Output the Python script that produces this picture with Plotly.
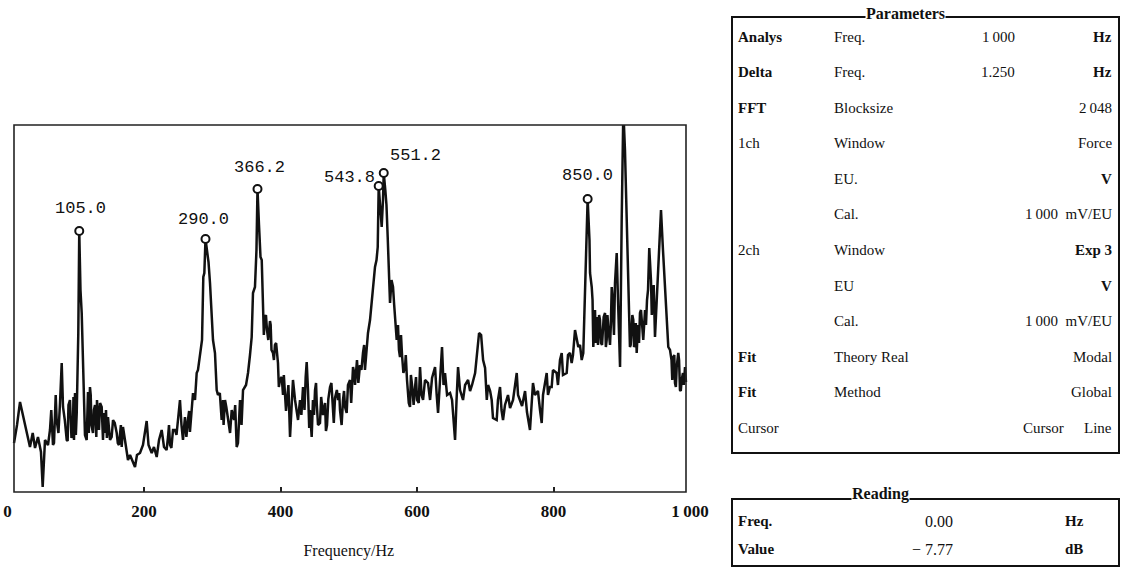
import plotly.graph_objects as go

# ---------------- data ----------------
freq_hz = [
    9.4, 13.8, 18.2, 24.0, 29.9, 32.8, 36.8, 40.2, 44.5, 48.9, 51.4, 54.8, 59.2, 62.1, 66.5,
    71.9, 76.8, 79.3, 81.2, 86.6, 89.2, 91.4, 93.6, 95.8, 97.3, 98.8, 101.3, 103.6, 105.0,
    106.8, 108.6, 110.5, 112.0, 113.4, 115.9, 117.8, 120.7, 122.9, 125.1, 128.1, 131.0,
    133.9, 137.9, 139.8, 142.7, 144.2, 147.1, 150.1, 152.5, 154.5, 159.9, 163.2, 167.2,
    169.1, 172.0, 176.4, 179.4, 183.8, 186.7, 189.6, 194.0, 198.4, 203.8, 206.5, 211.2,
    214.5, 218.5, 221.9, 225.8, 229.2, 235.1, 238.0, 242.4, 245.3, 249.7, 252.6, 254.8,
    257.0, 259.9, 264.3, 267.2, 269.8, 271.7, 274.6, 277.1, 279.0, 281.9, 284.9, 286.8,
    288.3, 290.0, 294.4, 296.6, 301.0, 303.9, 306.4, 308.3, 313.7, 315.7, 318.6, 323.0,
    328.4, 331.8, 335.7, 337.6, 340.6, 342.8, 345.0, 349.4, 352.3, 355.2, 357.7, 359.6,
    362.5, 364.7, 366.2, 368.4, 370.6, 372.4, 374.3, 377.2, 380.1, 384.5, 386.7, 388.9,
    391.8, 396.2, 399.1, 401.7, 403.6, 406.5, 409.5, 413.9, 416.0, 418.2, 421.2, 425.6,
    428.5, 432.9, 435.1, 438.3, 440.2, 443.1, 445.6, 447.5, 450.5, 453.0, 454.9, 457.8,
    462.2, 465.2, 468.1, 472.5, 476.9, 479.8, 484.2, 487.1, 491.5, 494.5, 496.9, 498.8,
    501.8, 506.2, 509.1, 512.0, 516.4, 520.8, 523.7, 528.1, 531.1, 533.6, 535.5, 538.4,
    540.6, 542.4, 543.8, 546.4, 548.2, 550.1, 551.2, 555.2, 557.0, 558.9, 560.4, 562.6,
    564.8, 567.7, 570.2, 572.1, 575.0, 578.0, 582.4, 585.3, 586.8, 589.7, 592.7, 597.1,
    600.0, 604.4, 606.6, 608.8, 611.7, 616.1, 619.1, 622.0, 626.4, 628.8, 630.8, 633.7,
    636.6, 638.8, 641.0, 644.0, 648.4, 651.3, 655.7, 657.9, 660.1, 663.0, 667.4, 670.4,
    674.8, 677.7, 680.6, 685.1, 688.0, 690.9, 693.9, 696.8, 699.7, 702.2, 704.1, 707.1,
    709.4, 711.3, 716.7, 718.6, 721.6, 723.8, 726.0, 728.9, 733.3, 736.3, 740.7, 743.6,
    746.1, 748.0, 750.9, 753.9, 758.3, 761.1, 765.5, 767.7, 769.9, 772.8, 777.2, 780.2,
    782.7, 784.6, 790.0, 791.9, 794.8, 797.3, 799.2, 804.6, 806.5, 809.5, 812.0, 813.9,
    819.3, 821.2, 824.1, 826.6, 828.5, 831.5, 836.3, 838.8, 841.3, 843.6, 846.1, 848.6,
    850.0, 852.7, 853.5, 856.0, 858.3, 860.8, 863.3, 865.2, 868.1, 871.1, 875.5, 877.9,
    880.3, 882.8, 885.3, 887.2, 890.1, 892.6, 894.5, 897.5, 899.9, 902.3, 904.7, 907.2,
    909.1, 912.0, 914.2, 916.9, 919.4, 921.9, 923.8, 926.7, 929.7, 934.1, 937.0, 940.3,
    942.8, 945.3, 948.7, 951.2, 953.5, 957.5, 960.4, 963.4, 965.8, 968.2, 970.7, 972.9,
    975.5, 978.0, 980.5, 982.8, 985.3, 987.8, 989.7, 992.7, 994.1,
]
level_db = [
    -7.8, -6.0, -3.7, -5.5, -7.5, -8.2, -6.8, -8.3, -7.2, -8.7, -12.2, -7.5, -8.0, -6.5, -8.0,
    -5.5, -3.8, 0.2, -4.2, -7.5, -4.0, -3.5, -7.3, -6.2, -7.5, -2.8, -4.8, 3.2, 13.4,
    7.5, 5.2, -0.5, -2.8, -7.0, -7.5, -2.7, -2.2, -6.0, -6.8, -4.0, -3.5,
    -6.5, -4.2, -7.5, -6.8, -4.5, -5.2, -7.5, -7.2, -5.5, -6.8, -8.0, -8.2,
    -6.2, -7.5, -9.5, -9.0, -9.7, -10.2, -9.0, -8.8, -8.0, -5.6, -8.0, -8.8,
    -8.2, -9.2, -7.5, -6.5, -8.2, -7.2, -8.0, -6.5, -6.5, -5.5, -3.5, -6.0,
    -7.5, -5.2, -5.5, -6.7, -4.2, -2.8, -3.5, -0.8, -0.5, 1.2, 2.5, 8.8,
    9.2, 12.6, 10.3, 8.2, 2.5, 1.2, -2.5, -3.0, -5.5, -3.5, -3.5, -5.3,
    -4.5, -5.5, -8.2, -7.8, -3.5, -6.0, -2.5, -2.0, -0.8, 1.0, 2.8, 7.2,
    7.8, 11.5, 17.6, 14.0, 10.8, 10.5, 6.5, 4.7, 3.5, 4.4, 1.5, 1.2,
    2.0, 0.2, -1.5, -1.2, -3.0, -2.6, -3.5, -7.2, -3.5, -1.5, -3.5, -5.5,
    -3.5, -2.2, -4.5, 0.3, -2.5, -4.5, -7.2, -3.5, -2.5, -3.8, -6.0, -5.8,
    -5.0, -3.8, -6.0, -2.2, -4.6, -3.3, -3.5, -4.5, -3.5, -4.2, -4.8, -2.0,
    -1.5, -0.2, -2.0, 0.5, 0.0, 1.2, -0.5, 3.2, 4.5, 6.2, 7.5, 9.8,
    10.5, 11.8, 17.9, 15.0, 13.8, 16.5, 19.2, 16.0, 12.8, 10.0, 6.2, 8.5,
    7.8, 4.5, 2.5, 4.0, 0.8, 1.0, -0.2, -1.5, -2.6, -4.2, -2.0, -2.2,
    -3.5, -0.2, -3.0, -3.5, -1.5, -1.8, -3.5, -1.3, -0.2, -3.0, -4.8, -1.5,
    1.8, -2.0, -0.8, -3.0, -2.8, -3.5, -7.5, -3.5, -0.2, -2.5, -3.5, -2.0,
    -1.5, -2.6, -2.0, -0.8, 1.0, 3.2, 3.0, 0.5, -0.3, -3.5, -2.0, -2.6,
    -3.5, -5.3, -5.5, -3.5, -2.2, -4.5, -5.5, -4.0, -3.0, -4.3, -3.5, -2.0,
    -0.8, -3.0, -3.5, -4.1, -2.6, -4.7, -6.5, -4.5, -1.8, -3.0, -2.6, -4.5,
    -5.8, -3.0, -0.8, -3.0, -2.2, -2.2, -0.5, -0.8, -2.0, 0.5, 1.2, -1.0,
    -0.8, 1.0, 1.2, 0.2, 1.0, 3.5, 1.8, 2.0, 0.5, 1.2, 7.2, 11.8,
    16.6, 12.5, 9.2, 7.8, 1.8, 5.5, 4.8, 2.0, 4.5, 2.0, 5.2, 2.5,
    3.8, 2.0, 7.8, 4.5, 8.2, 11.2, 6.5, -0.2, 14.5, 25.5, 21.5, 14.5,
    8.5, 1.8, 4.5, 4.5, 2.0, 1.2, 4.0, 5.2, 3.5, 5.5, 6.5, 11.7,
    8.5, 6.8, 2.8, 6.5, 9.5, 15.5, 11.5, 7.8, 5.8, 1.8, 1.5, 0.5,
    0.8, -1.8, -0.2, 1.2, -2.5, -1.5, -0.8, -0.2, -1.7,
]

# additional samples read from the dense, noisy bands of the trace
band_freq_hz = [
    64.0, 68.0, 70.5, 74.5, 83.8, 88.0, 96.5, 100.0, 119.0, 121.8, 126.5, 130.0, 135.5,
    141.0, 145.5, 157.0, 161.5, 166.0, 233.0, 236.5, 240.0, 247.5, 251.0, 262.0, 266.0,
    298.5, 305.0, 311.0, 316.5, 320.5, 326.0, 333.5, 375.5, 378.6, 382.0, 385.5, 390.3,
    393.5, 397.5, 404.8, 408.0, 411.5, 430.5, 436.8, 442.0, 449.0, 452.0, 459.5, 466.5,
    470.0, 474.5, 478.0, 482.5, 486.0, 489.5, 493.0, 503.5, 508.0, 514.0, 518.5, 522.5,
    525.5, 553.5, 559.6, 566.5, 569.0, 573.5, 576.5, 580.0, 583.5, 587.9, 591.0, 595.0,
    598.5, 602.5, 857.2, 862.0, 866.8, 869.6, 873.5, 876.7, 879.0, 881.5, 884.0, 886.2,
    888.6, 913.1, 915.5, 918.0, 920.6, 925.3, 928.2, 931.5, 935.5, 938.5, 944.0, 946.8,
    974.0, 977.0, 979.3, 984.0, 986.5, 991.0,
]
band_level_db = [
    -4.5, -7.8, -3.0, -6.8, -5.5, -7.6, -3.2, -7.0, -6.8, -3.0, -4.5, -7.2, -3.8,
    -4.8, -7.3, -5.8, -7.8, -6.0, -8.5, -6.0, -8.3, -7.0, -4.8, -7.2, -4.6,
    5.0, -1.5, -2.8, -6.0, -4.2, -6.8, -4.0, 3.0, 5.0, 2.5, 4.0, 0.5,
    2.2, -2.2, -1.0, -4.6, -2.0, -5.0, -1.2, -6.3, -5.0, -1.8, -3.2, -6.6,
    -3.4, -1.8, -5.8, -2.5, -2.8, -6.0, -2.6, -3.8, -0.8, -1.8, -0.5, 2.0,
    1.5, 17.5, 7.5, 6.0, 3.2, 1.5, 3.0, -0.8, 1.0, -3.8, -1.0, -4.0,
    -1.2, -3.8, 6.5, 2.2, 5.0, 2.2, 4.8, 1.8, 5.0, 2.4, 4.0, 7.0,
    3.0, 2.0, 5.0, 1.8, 4.2, 2.2, 5.5, 2.5, 4.0, 7.5, 5.0, 8.0,
    -1.5, 1.0, -2.2, 0.5, -2.6, -2.0,
]

peak_freq_hz = [105.0, 290.0, 366.2, 543.8, 551.2, 850.0]
peak_level_db = [13.4, 12.6, 17.6, 17.9, 19.2, 16.6]

x_tick_vals = [0, 200, 400, 600, 800, 1000]
x_tick_text = ["0", "200", "400", "600", "800", "1\u2009000"]
x_minor_ticks = [200, 400, 600, 800]

param_name = ["Analys", "Delta", "FFT", "1ch", "", "", "2ch", "", "", "Fit", "Fit", "Cursor"]
param_item = ["Freq.", "Freq.", "Blocksize", "Window", "EU.", "Cal.", "Window", "EU", "Cal.",
              "Theory Real", "Method", ""]
param_value = ["1\u2009000", "1.250", "", "", "", "", "", "", "", "", "", "Cursor"]
param_unit = ["Hz", "Hz", "2\u2009048", "Force", "V", "1\u2009000  mV/EU", "Exp 3", "V",
              "1\u2009000  mV/EU", "Modal", "Global", "Line"]

reading_name = ["Freq.", "Value"]
reading_value = ["0.00", "\u2212 7.77"]
reading_unit = ["Hz", "dB"]

# ---------------- styling helpers ----------------
W, H = 1124, 568
SERIF = "Liberation Serif, Times New Roman, serif"


def px(x):
    return x / W


def py(y):
    return 1 - y / H


trace = sorted(zip(freq_hz + band_freq_hz, level_db + band_level_db))
trace_x = [p[0] for p in trace]
trace_y = [p[1] for p in trace]

fig = go.Figure()

fig.add_trace(go.Scatter(
    x=trace_x, y=trace_y, mode="lines",
    line=dict(color="#111111", width=2.5),
    hoverinfo="skip", showlegend=False,
))
fig.add_trace(go.Scatter(
    x=peak_freq_hz, y=peak_level_db, mode="markers",
    marker=dict(symbol="circle", size=8, color="white",
                line=dict(color="#111111", width=2)),
    hoverinfo="skip", showlegend=False,
))

# peak labels (offsets are style only)
label_style = [
    dict(xanchor="center", xshift=1, yshift=23),
    dict(xanchor="center", xshift=-2, yshift=20),
    dict(xanchor="center", xshift=2, yshift=22),
    dict(xanchor="right", xshift=-2, yshift=9),
    dict(xanchor="left", xshift=4, yshift=18),
    dict(xanchor="center", xshift=0, yshift=24),
]
for f, v, st in zip(peak_freq_hz, peak_level_db, label_style):
    fig.add_annotation(
        x=f, y=v, xref="x", yref="y", text=f"{f:.1f}", showarrow=False,
        yanchor="middle", font=dict(family="Liberation Mono, monospace", size=17, color="#111"),
        **st,
    )

# Parameters table
row_y0, row_dy = 37, 35.5
for i, (a, b, c, d) in enumerate(zip(param_name, param_item, param_value, param_unit)):
    yy = py(row_y0 + i * row_dy)
    bold_a = a in ("Analys", "Delta", "FFT", "Fit")
    if a:
        fig.add_annotation(x=px(736), y=yy, xref="paper", yref="paper", showarrow=False,
                           text=f"<b>{a}</b>" if bold_a else a, xanchor="left", yanchor="middle",
                           font=dict(family=SERIF, size=15, color="#111"))
    if b:
        fig.add_annotation(x=px(832), y=yy, xref="paper", yref="paper", showarrow=False,
                           text=b, xanchor="left", yanchor="middle",
                           font=dict(family=SERIF, size=15, color="#111"))
    if c:
        cx = 1066 if c == "Cursor" else 1017
        fig.add_annotation(x=px(cx), y=yy, xref="paper", yref="paper", showarrow=False,
                           text=c, xanchor="right", yanchor="middle",
                           font=dict(family=SERIF, size=15, color="#111"))
    if d:
        bold_d = d in ("Hz", "V", "Exp 3")
        txt = f"<b>{d}</b>" if bold_d else d
        fig.add_annotation(x=px(1114), y=yy, xref="paper", yref="paper", showarrow=False,
                           text=txt, xanchor="right", yanchor="middle",
                           font=dict(family=SERIF, size=15, color="#111"))

# Reading table
read_y = [521, 549]
for a, b, c, yv in zip(reading_name, reading_value, reading_unit, read_y):
    yy = py(yv)
    fig.add_annotation(x=px(736), y=yy, xref="paper", yref="paper", showarrow=False,
                       text=f"<b>{a}</b>", xanchor="left", yanchor="middle",
                       font=dict(family=SERIF, size=15, color="#111"))
    fig.add_annotation(x=px(955), y=yy, xref="paper", yref="paper", showarrow=False,
                       text=b, xanchor="right", yanchor="middle",
                       font=dict(family=SERIF, size=16, color="#111"))
    fig.add_annotation(x=px(1063), y=yy, xref="paper", yref="paper", showarrow=False,
                       text=f"<b>{c}</b>", xanchor="left", yanchor="middle",
                       font=dict(family=SERIF, size=15, color="#111"))

# box titles
fig.add_annotation(x=px(905), y=py(13), xref="paper", yref="paper", showarrow=False,
                   text="<b>Parameters</b>", xanchor="center", yanchor="middle",
                   bgcolor="white", borderpad=0,
                   font=dict(family=SERIF, size=16, color="#111"))
fig.add_annotation(x=px(880), y=py(494), xref="paper", yref="paper", showarrow=False,
                   text="<b>Reading</b>", xanchor="center", yanchor="middle",
                   bgcolor="white", borderpad=0,
                   font=dict(family=SERIF, size=16, color="#111"))

shapes = [
    # plot frame
    dict(type="rect", xref="paper", yref="paper", x0=px(14), x1=px(686), y0=py(492), y1=py(125),
         line=dict(color="#222", width=1.6), layer="above"),
    # parameters box
    dict(type="rect", xref="paper", yref="paper", x0=px(732), x1=px(1119), y0=py(453), y1=py(17),
         line=dict(color="#111", width=2), layer="below"),
    # reading box
    dict(type="rect", xref="paper", yref="paper", x0=px(732), x1=px(1119), y0=py(566), y1=py(499),
         line=dict(color="#111", width=2), layer="below"),
]

fig.update_layout(
    width=W, height=H,
    margin=dict(l=0, r=0, t=0, b=0),
    paper_bgcolor="white", plot_bgcolor="white",
    shapes=shapes,
    showlegend=False,
    xaxis=dict(
        domain=[px(7.6), px(690)], range=[0, 1000],
        tickmode="array", tickvals=x_tick_vals, ticktext=x_tick_text,
        ticks="", showline=False, showgrid=False, zeroline=False, automargin=False,
        ticklabelstandoff=7,
        tickfont=dict(family=SERIF, size=17, color="#111", weight="bold"),
        minor=dict(tickmode="array", tickvals=x_minor_ticks, ticks="inside", ticklen=5,
                   tickwidth=1.5, tickcolor="#222", showgrid=False),
        title=dict(text="Frequency/Hz", standoff=24,
                   font=dict(family=SERIF, size=16, color="#111")),
    ),
    yaxis=dict(
        domain=[py(492), py(125)], range=[-12.7, 24.0],
        visible=False, showgrid=False, zeroline=False, automargin=False,
    ),
)

fig.write_html(
    "out.html",
    config={"displayModeBar": False},
    post_script="document.body.style.margin='0';document.body.style.overflow='hidden';",
)
